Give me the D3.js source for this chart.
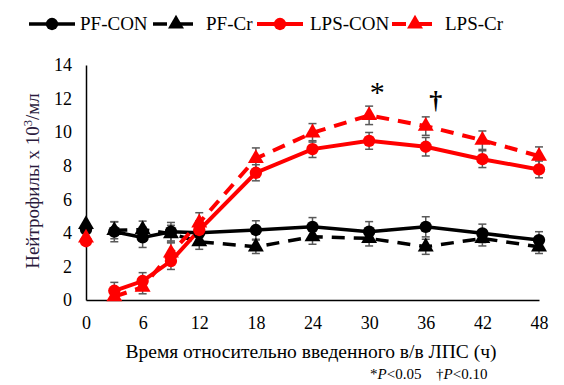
<!DOCTYPE html>
<html lang="ru">
<head>
  <meta charset="UTF-8">
  <title>Нейтрофилы</title>
  <style>
    body { margin: 0; background: #fff; }
    svg text { font-family: "Liberation Serif", "Times New Roman", serif !important; }
  </style>
</head>
<body>
  <div class="layout"></div>
  <script src="https://d3js.org/d3.v7.min.js"></script>
  <script>
    // time points (hours), t=0 is drawn separately (not joined to the lines)
    const hours = [3, 6, 9, 12, 18, 24, 30, 36, 42, 48];
    const xTicks = [0, 6, 12, 18, 24, 30, 36, 42, 48];
    const yTicks = [0, 2, 4, 6, 8, 10, 12, 14];

    const pfCon  = [4.07, 3.73, 4.07, 4.0, 4.17, 4.36, 4.07, 4.36, 3.97, 3.57];
    const pfCr   = [4.15, 4.2, 3.95, 3.47, 3.17, 3.77, 3.67, 3.17, 3.67, 3.17];
    const lpsCon = [0.55, 1.13, 2.32, 4.17, 7.58, 8.99, 9.48, 9.13, 8.39, 7.78];
    const lpsCr  = [0.2, 0.77, 2.8, 4.6, 8.43, 9.96, 11.0, 10.36, 9.52, 8.57];

    const pfConErr  = [0.6, 0.6, 0.55, 0.55, 0.55, 0.55, 0.6, 0.6, 0.55, 0.5];
    const pfCrErr   = [0.5, 0.5, 0.5, 0.45, 0.4, 0.45, 0.45, 0.45, 0.45, 0.4];
    const lpsConErr = [0.5, 0.5, 0.5, 0.55, 0.48, 0.5, 0.5, 0.55, 0.5, 0.5];
    const lpsCrErr  = [0.3, 0.4, 0.6, 0.6, 0.63, 0.55, 0.55, 0.55, 0.55, 0.55];

    // values at t=0
    const baseline = {pfCon: 4.2, pfCr: 4.5, lpsCon: 3.5, lpsCr: 3.7};

    const seriesNames = ['PF-CON', 'PF-Cr', 'LPS-CON', 'LPS-Cr'];

    const W = 564, H = 385;
    const margin = {top: 65, right: 24, bottom: 85, left: 86};
    const innerW = 539 - margin.left;
    const innerH = 300 - margin.top;

    const svg = d3.select('.layout').append('svg')
      .attr('width', W).attr('height', H)
      .attr('viewBox', `0 0 ${W} ${H}`);

    const x = d3.scaleLinear().domain([0, 48]).range([margin.left, margin.left + innerW]);
    const y = d3.scaleLinear().domain([0, 14]).range([margin.top + innerH, margin.top]);

    const series = [
      {name: 'PF-CON', vals: pfCon, err: pfConErr, base: baseline.pfCon, color: '#000', dash: null, marker: 'circle', width: 3.5},
      {name: 'PF-Cr', vals: pfCr, err: pfCrErr, base: baseline.pfCr, color: '#000', dash: '13,9', marker: 'triangle', width: 3.5},
      {name: 'LPS-CON', vals: lpsCon, err: lpsConErr, base: baseline.lpsCon, color: '#ff0000', dash: null, marker: 'circle', width: 4},
      {name: 'LPS-Cr', vals: lpsCr, err: lpsCrErr, base: baseline.lpsCr, color: '#ff0000', dash: '13,9', marker: 'triangle', width: 4}
    ];

    // axes (no tick marks, just lines and labels)
    const xAxis = d3.axisBottom(x).tickValues(xTicks).tickSize(0).tickPadding(16);
    const yAxis = d3.axisLeft(y).tickValues(yTicks).tickSize(0).tickPadding(14);

    const gx = svg.append('g')
      .attr('transform', `translate(0,${y(0)})`)
      .call(xAxis);
    const gy = svg.append('g')
      .attr('transform', `translate(${x(0)},0)`)
      .call(yAxis);
    [gx, gy].forEach(g => {
      g.attr('font-family', null).attr('font-size', null);
      g.select('.domain').attr('stroke', '#000').attr('stroke-width', 1.5);
      g.selectAll('text').attr('font-size', 18).attr('fill', '#000');
    });

    function markerPath(type) {
      return type === 'circle'
        ? d3.symbol(d3.symbolCircle, 120)()
        : d3.symbol(d3.symbolTriangle, 110)();
    }

    const plot = svg.append('g');

    // error bars
    series.forEach(s => {
      const g = plot.append('g').attr('stroke', '#595959').attr('stroke-width', 1.5);
      hours.forEach((h, i) => {
        const cx = x(h), top = y(s.vals[i] + s.err[i]), bot = y(Math.max(0, s.vals[i] - s.err[i]));
        g.append('line').attr('x1', cx).attr('x2', cx).attr('y1', top).attr('y2', bot);
        g.append('line').attr('x1', cx - 4).attr('x2', cx + 4).attr('y1', top).attr('y2', top);
        g.append('line').attr('x1', cx - 4).attr('x2', cx + 4).attr('y1', bot).attr('y2', bot);
      });
    });

    // lines
    const line = d3.line().x(d => x(d[0])).y(d => y(d[1]));
    series.forEach(s => {
      plot.append('path')
        .datum(hours.map((h, i) => [h, s.vals[i]]))
        .attr('d', line)
        .attr('fill', 'none')
        .attr('stroke', s.color)
        .attr('stroke-width', s.width)
        .attr('stroke-dasharray', s.dash);
    });

    // markers, including the separate t=0 points
    series.forEach(s => {
      const pts = [[0, s.base]].concat(hours.map((h, i) => [h, s.vals[i]]));
      plot.append('g').selectAll('path')
        .data(pts)
        .join('path')
        .attr('d', markerPath(s.marker))
        .attr('transform', d => `translate(${x(d[0])},${y(d[1])})`)
        .attr('fill', s.color);
    });

    // significance marks
    svg.append('text').attr('x', x(30) + 8).attr('y', y(11) - 13)
      .attr('text-anchor', 'middle').attr('font-size', 30).text('*');
    svg.append('text').attr('x', x(36) + 10).attr('y', y(10.36) - 17)
      .attr('text-anchor', 'middle').attr('font-size', 26).attr('font-weight', 'bold').text('†');

    // axis titles
    svg.append('text')
      .attr('x', 311).attr('y', 358)
      .attr('text-anchor', 'middle').attr('font-size', 19.5)
      .text('Время относительно введенного в/в ЛПС (ч)');

    const yt = svg.append('text')
      .attr('transform', 'translate(39,181) rotate(-90)')
      .attr('text-anchor', 'middle').attr('font-size', 19).attr('fill', '#2b1b3d');
    yt.append('tspan').text('Нейтрофилы х 10');
    yt.append('tspan').attr('font-size', 12.5).attr('dy', -7).text('3');
    yt.append('tspan').attr('dy', 7).text('/мл');

    // footnote
    const fn = svg.append('text').attr('y', 379).attr('font-size', 15);
    fn.append('tspan').attr('x', 370).text('*');
    fn.append('tspan').attr('font-style', 'italic').text('P');
    fn.append('tspan').text('<0.05');
    fn.append('tspan').attr('x', 436).text('†');
    fn.append('tspan').attr('font-style', 'italic').text('P');
    fn.append('tspan').text('<0.10');

    // legend
    const legendX = [29, 153, 257, 392];
    const legendTextX = [80, 206, 310, 445];
    const leg = svg.append('g');
    series.forEach((s, i) => {
      const g = leg.append('g');
      const x0 = legendX[i], ly = 24;
      if (s.dash) {
        g.append('line').attr('x1', x0).attr('x2', x0 + 14).attr('y1', ly).attr('y2', ly)
          .attr('stroke', s.color).attr('stroke-width', s.width);
        g.append('line').attr('x1', x0 + 27).attr('x2', x0 + 40).attr('y1', ly).attr('y2', ly)
          .attr('stroke', s.color).attr('stroke-width', s.width);
        g.append('path').attr('d', markerPath(s.marker))
          .attr('transform', `translate(${x0 + 23},${ly})`).attr('fill', s.color);
      } else {
        g.append('line').attr('x1', x0).attr('x2', x0 + 46).attr('y1', ly).attr('y2', ly)
          .attr('stroke', s.color).attr('stroke-width', s.width);
        g.append('path').attr('d', markerPath(s.marker))
          .attr('transform', `translate(${x0 + 23},${ly})`).attr('fill', s.color);
      }
      g.append('text').attr('x', legendTextX[i]).attr('y', ly + 6)
        .attr('font-size', 19).text(seriesNames[i]);
    });
  </script>
</body>
</html>
